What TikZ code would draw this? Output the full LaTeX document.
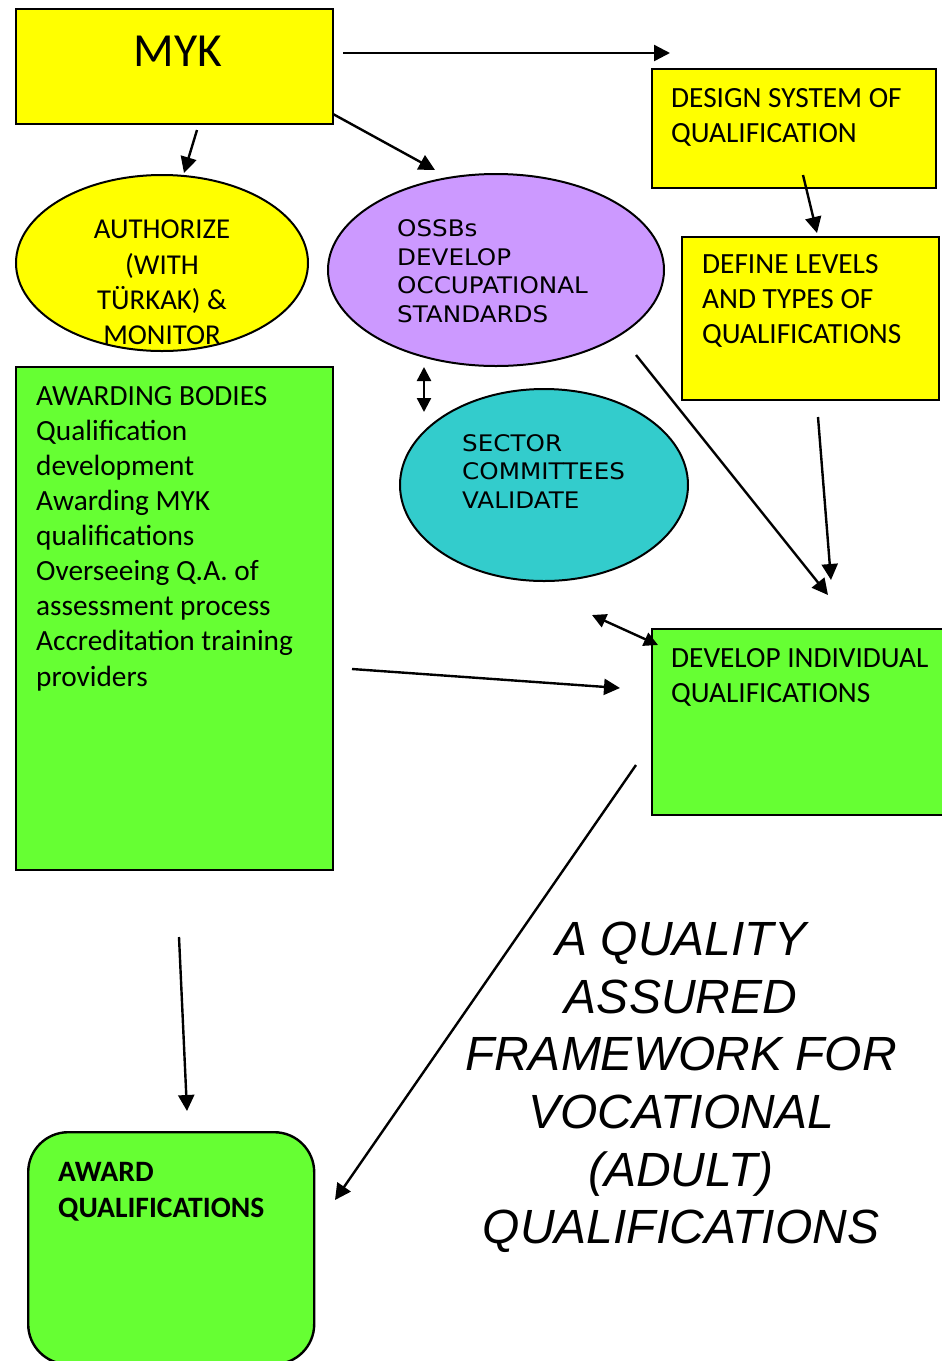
\documentclass[tikz,border=0pt]{standalone}
\usepackage{fontspec}
\setmainfont{Carlito}
\newfontfamily\verdfont[FakeStretch=1.08]{DejaVu Sans}
\newfontfamily\arialfont{Liberation Sans}
\usetikzlibrary{shapes.geometric,arrows.meta}
\definecolor{boxyellow}{HTML}{FFFF00}
\definecolor{boxgreen}{HTML}{66FF33}
\definecolor{ovalpurple}{HTML}{CC99FF}
\definecolor{ovalteal}{HTML}{33CCCC}
\begin{document}
\begin{tikzpicture}[x=1pt,y=-1pt,
  box/.style={draw=black,line width=2.4pt,anchor=north west,inner sep=0pt},
  oval/.style={draw=black,line width=2pt,ellipse,inner sep=0pt},
  label/.style={inner sep=0pt,align=left,anchor=north west,font=\fontsize{29.3}{35.3}\selectfont},
  ovaltext/.style={inner sep=0pt,align=left,anchor=north west,font=\verdfont\fontsize{22.8}{28.9}\selectfont},
  conn/.style={line width=2.4pt,-{Triangle[length=16pt,width=16pt]}},
  biconn/.style={line width=2.4pt,{Triangle[length=14pt,width=14pt]}-{Triangle[length=14pt,width=14pt]}}]
\useasboundingbox (0,0) rectangle (942,1361);

% shapes
\node[box,fill=boxyellow,minimum width=317pt,minimum height=115pt] (myk) at (15,8) {};
\node[box,fill=boxyellow,minimum width=284pt,minimum height=119pt] (design) at (651,68) {};
\node[box,fill=boxyellow,minimum width=257pt,minimum height=163pt] (define) at (681,236) {};
\node[oval,fill=boxyellow,minimum width=292pt,minimum height=176pt] (authorize) at (162,263) {};
\node[oval,fill=ovalpurple,minimum width=336pt,minimum height=192pt] (ossbs) at (496,270) {};
\node[oval,fill=ovalteal,minimum width=288pt,minimum height=192pt] (sector) at (544,485) {};
\node[box,fill=boxgreen,minimum width=317pt,minimum height=503pt] (awarding) at (15,366) {};
\node[box,fill=boxgreen,minimum width=310pt,minimum height=186pt] (develop) at (651,628) {};
\node[box,fill=boxgreen,rounded corners=40pt,minimum width=286pt,minimum height=232pt] (award) at (27,1131) {};

% texts
\node[inner sep=0pt,anchor=base,font=\fontsize{47.5}{50}\selectfont] (mykt) at (178,66) {MYK};
\node[label] (designt) at (671,88) {DESIGN SYSTEM OF\\QUALIFICATION};
\node[label] (definet) at (702,254) {DEFINE LEVELS\\AND TYPES OF\\QUALIFICATIONS};
\node[label,font=\fontsize{28.8}{35.3}\selectfont,align=center,anchor=north] (authorizet) at (162,220) {AUTHORIZE\\(WITH\\TÜRKAK) \&\\MONITOR};
\node[ovaltext] (ossbst) at (397,219) {OSSBs\\DEVELOP\\OCCUPATIONAL\\STANDARDS};
\node[ovaltext,font=\verdfont\fontsize{22.8}{28.5}\selectfont] (sectort) at (462,434) {SECTOR\\COMMITTEES\\VALIDATE};
\node[label,font=\fontsize{29.3}{35.1}\selectfont] (awardingt) at (36,386) {AWARDING BODIES\\Qualification\\development\\Awarding MYK\\qualifications\\Overseeing Q.A. of\\assessment process\\Accreditation training\\providers};
\node[label] (developt) at (671,648) {DEVELOP INDIVIDUAL\\QUALIFICATIONS};
\node[label,font=\bfseries\fontsize{29.6}{36}\selectfont] (awardt) at (58,1162) {AWARD\\QUALIFICATIONS};
\node[inner sep=0pt,align=center,anchor=north,font=\arialfont\itshape\fontsize{48}{57.6}\selectfont] (frameworkt) at (681,922)
  {A QUALITY\\ASSURED\\FRAMEWORK FOR\\VOCATIONAL\\(ADULT)\\QUALIFICATIONS};

% connector end points
\coordinate (mykE) at (343,53);
\coordinate (designW) at (670,53);
\coordinate (mykS) at (197,130);
\coordinate (authorizeN) at (184,173);
\coordinate (mykSE) at (333,114);
\coordinate (ossbsN) at (435,170);
\coordinate (designS) at (803,175);
\coordinate (defineN) at (817,233);
\coordinate (ossbsS) at (424,367);
\coordinate (sectorN) at (424,412);
\coordinate (ossbsSE) at (636,355);
\coordinate (developNa) at (828,595);
\coordinate (defineS) at (818,417);
\coordinate (developNb) at (831,580);
\coordinate (sectorSE) at (592,615);
\coordinate (developNW) at (658,645);
\coordinate (awardingE) at (352,669);
\coordinate (developW) at (620,688);
\coordinate (developSW) at (636,765);
\coordinate (awardE) at (335,1200);
\coordinate (awardingS) at (179,937);
\coordinate (awardN) at (187,1111);

% connectors
\draw[conn] (mykE) -- (designW);
\draw[conn] (mykS) -- (authorizeN);
\draw[conn] (mykSE) -- (ossbsN);
\draw[conn] (designS) -- (defineN);
\draw[biconn] (ossbsS) -- (sectorN);
\draw[conn] (ossbsSE) -- (developNa);
\draw[conn] (defineS) -- (developNb);
\draw[biconn] (sectorSE) -- (developNW);
\draw[conn] (awardingE) -- (developW);
\draw[conn] (developSW) -- (awardE);
\draw[conn] (awardingS) -- (awardN);
\end{tikzpicture}
\end{document}
